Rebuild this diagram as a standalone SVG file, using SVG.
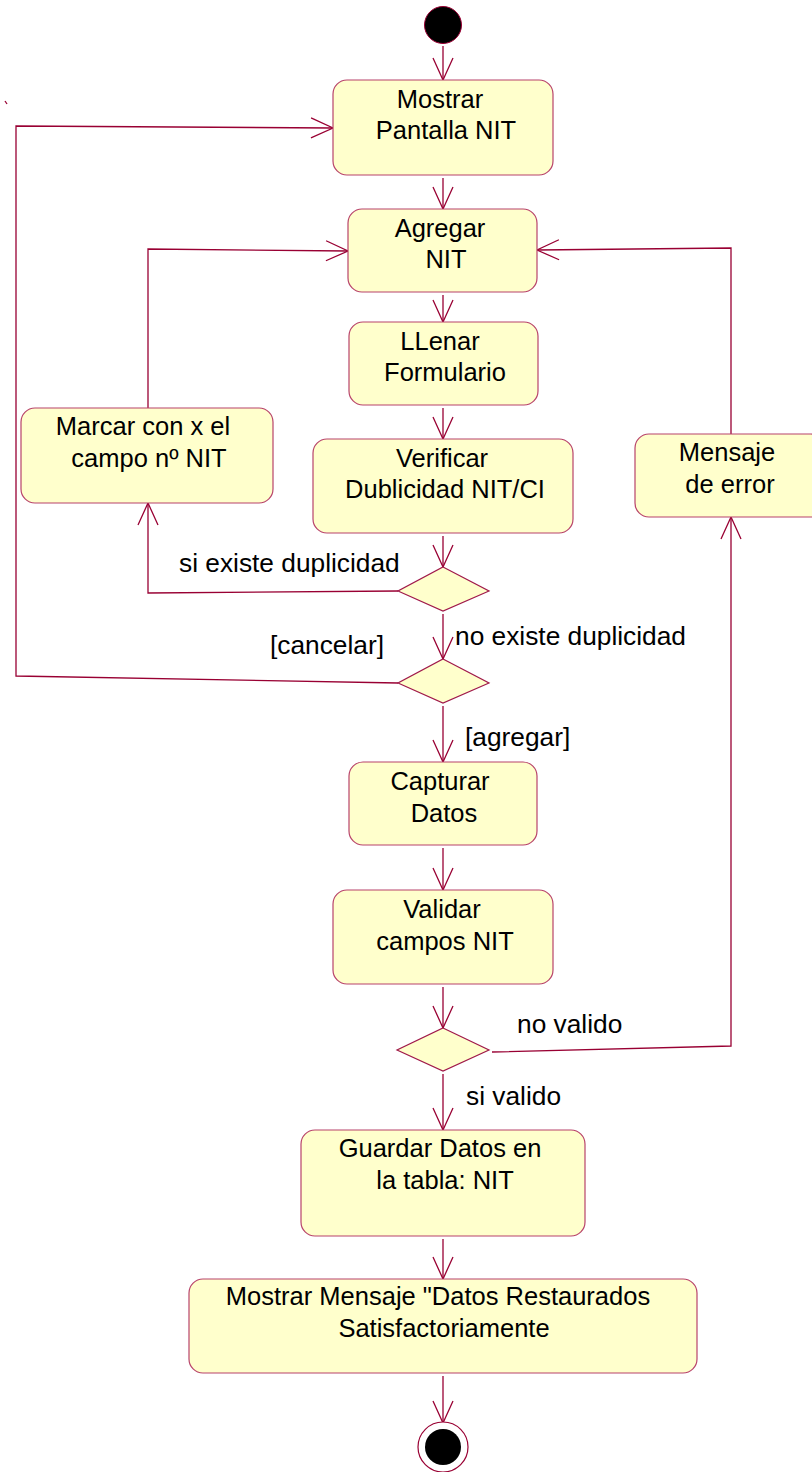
<svg xmlns="http://www.w3.org/2000/svg" width="812" height="1472" viewBox="0 0 812 1472">
<defs>
<marker id="arr" markerWidth="24" markerHeight="24" viewBox="-23 -12 24 24" refX="0" refY="0" orient="auto" markerUnits="userSpaceOnUse">
<path d="M-22,-10 L0,0 L-22,10" fill="none" stroke="#990033" stroke-width="1.3"/>
</marker>
</defs>
<style>
.box{fill:#FFFFCC;stroke:#B8436A;stroke-width:1.2}
.dia{fill:#FFFFCC;stroke:#A01A4A;stroke-width:1.2}
.t{font-family:"Liberation Sans",Arial,sans-serif;font-size:25.5px;fill:#000;text-anchor:middle}
.l{font-family:"Liberation Sans",Arial,sans-serif;font-size:26.3px;fill:#000}
.c{fill:none;stroke:#990033;stroke-width:1.3}
.ca{fill:none;stroke:#990033;stroke-width:1.3;marker-end:url(#arr)}
</style>
<rect width="812" height="1472" fill="#FFFFFF"/>

<g id="connectors">
<line class="ca" x1="443" y1="46" x2="443" y2="80"/>
<line class="ca" x1="443" y1="178" x2="443" y2="209"/>
<line class="ca" x1="443" y1="295" x2="443" y2="322"/>
<line class="ca" x1="443" y1="408" x2="443" y2="439"/>
<line class="ca" x1="443" y1="536" x2="443" y2="567"/>
<line class="ca" x1="443" y1="614" x2="443" y2="659"/>
<line class="ca" x1="443" y1="706" x2="443" y2="762"/>
<line class="ca" x1="443" y1="848" x2="443" y2="890"/>
<line class="ca" x1="443" y1="987" x2="443" y2="1028"/>
<line class="ca" x1="443" y1="1074" x2="443" y2="1130"/>
<line class="ca" x1="443" y1="1239" x2="443" y2="1279"/>
<line class="ca" x1="443" y1="1376" x2="443" y2="1423"/>
<polyline class="ca" points="398,591 148,593 148,503"/>
<polyline class="ca" points="148,408 148,249 348,251"/>
<polyline class="ca" points="731,434 731,248 537,250"/>
<polyline class="ca" points="398,683 16,676 16,126 333,128"/>
<polyline class="ca" points="492,1052 731,1046 731,517"/>
<line class="c" x1="5" y1="101" x2="7" y2="104"/>
</g>

<g id="start"><circle cx="443" cy="25" r="18.5" fill="#000" stroke="#990033" stroke-width="1"/></g>

<g id="mostrar-pantalla">
<rect class="box" x="333" y="80" width="220" height="95" rx="14"/>
<text class="t" x="440" y="108">Mostrar</text>
<text class="t" x="446" y="139">Pantalla NIT</text>
</g>

<g id="agregar">
<rect class="box" x="348" y="209" width="189" height="83" rx="14"/>
<text class="t" x="440" y="237">Agregar</text>
<text class="t" x="446" y="268">NIT</text>
</g>

<g id="llenar">
<rect class="box" x="349" y="322" width="189" height="83" rx="14"/>
<text class="t" x="440" y="350">LLenar</text>
<text class="t" x="445" y="381">Formulario</text>
</g>

<g id="verificar">
<rect class="box" x="313" y="439" width="260" height="94" rx="14"/>
<text class="t" x="442" y="467">Verificar</text>
<text class="t" x="445" y="498">Dublicidad NIT/CI</text>
</g>

<g id="marcar">
<rect class="box" x="21" y="408" width="252" height="95" rx="14"/>
<text class="t" x="143" y="435">Marcar con x el</text>
<text class="t" x="149" y="467">campo nº NIT</text>
</g>

<g id="mensaje-error">
<rect class="box" x="635" y="434" width="190" height="83" rx="14"/>
<text class="t" x="727" y="461">Mensaje</text>
<text class="t" x="730" y="493">de error</text>
</g>

<g id="decision-duplicidad"><polygon class="dia" points="443,567 489,591 443,611 398,591"/></g>
<g id="decision-cancelar"><polygon class="dia" points="443,659 489,683 443,703 398,683"/></g>

<g id="capturar">
<rect class="box" x="349" y="762" width="188" height="83" rx="14"/>
<text class="t" x="440" y="790">Capturar</text>
<text class="t" x="444" y="822">Datos</text>
</g>

<g id="validar">
<rect class="box" x="333" y="890" width="220" height="94" rx="14"/>
<text class="t" x="442" y="918">Validar</text>
<text class="t" x="445" y="950">campos NIT</text>
</g>

<g id="decision-valido"><polygon class="dia" points="443,1028 489,1050 443,1071 397,1050"/></g>

<g id="guardar">
<rect class="box" x="301" y="1130" width="284" height="106" rx="14"/>
<text class="t" x="440" y="1157">Guardar Datos en</text>
<text class="t" x="445" y="1189">la tabla: NIT</text>
</g>

<g id="mostrar-mensaje">
<rect class="box" x="189" y="1279" width="508" height="94" rx="14"/>
<text class="t" x="438" y="1305">Mostrar Mensaje "Datos Restaurados</text>
<text class="t" x="444" y="1337">Satisfactoriamente</text>
</g>

<g id="end">
<circle cx="443" cy="1447" r="25" fill="#FFFFFF" stroke="#990033" stroke-width="1.2"/>
<circle cx="443" cy="1447" r="18" fill="#000"/>
</g>

<g id="labels">
<text class="l" x="179" y="572">si existe duplicidad</text>
<text class="l" x="455" y="645">no existe duplicidad</text>
<text class="l" x="270" y="654">[cancelar]</text>
<text class="l" x="465" y="746">[agregar]</text>
<text class="l" x="517" y="1033">no valido</text>
<text class="l" x="466" y="1105">si valido</text>
</g>
</svg>
